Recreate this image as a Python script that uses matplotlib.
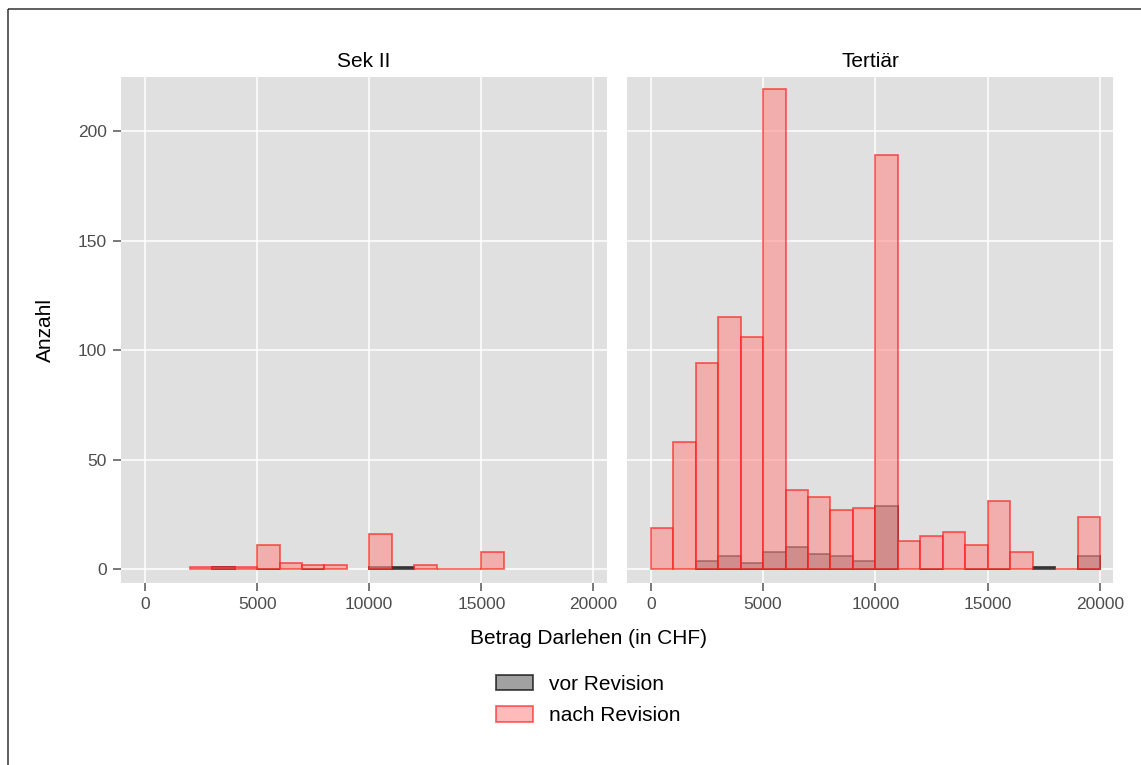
import matplotlib as mpl
import matplotlib.pyplot as plt
import numpy as np
from matplotlib.patches import Patch, Rectangle

nan = np.nan

# Klassengrenzen (CHF), Breite 1000
bin_edges = np.arange(0, 20001, 1000)

# Anzahl pro Klasse, Sek II
sek_nach = [nan, nan, 1, 1, 1, 11, 3, 2, 2, nan,
            16, nan, 2, 0, 0, 8, nan, nan, nan, nan]
sek_vor = [nan, nan, nan, 1, nan, 0, nan, 0, nan, nan,
           1, 1, nan, nan, nan, nan, nan, nan, nan, nan]

# Anzahl pro Klasse, Tertiär
ter_nach = [19, 58, 94, 115, 106, 219, 36, 33, 27, 28,
            189, 13, 15, 17, 11, 31, 8, nan, 0, 24]
ter_vor = [nan, nan, 4, 6, 3, 8, 10, 7, 6, 4,
           29, nan, 0, nan, 0, 0, nan, 1, nan, 6]

panels = ['Sek II', 'Tertiär']
labels = ['vor Revision', 'nach Revision']
x_ticks = [0, 5000, 10000, 15000, 20000]
y_ticks = [0, 50, 100, 150, 200]

mpl.rcParams['font.family'] = ['Liberation Sans', 'DejaVu Sans']

W, H = 1141, 765
fig = plt.figure(figsize=(W / 100, H / 100), dpi=100)

# Rahmen um die Grafik (rechts/unten abgeschnitten)
fig.patches.append(Rectangle((8 / W, 1 - 9 / H), 2, -2, transform=fig.transFigure,
                             fill=False, edgecolor='#333333', linewidth=1.1))

vor_style = dict(facecolor=(0, 0, 0, 0.37), edgecolor=(0, 0, 0, 0.7), linewidth=1.3)
nach_style = dict(facecolor=(1, 0.55, 0.55, 0.6), edgecolor=(1, 0.1, 0.1, 0.65), linewidth=1.3)

def px_box(x0, y0, x1, y1):
    return [x0 / W, 1 - y1 / H, (x1 - x0) / W, (y1 - y0) / H]

boxes = [px_box(121, 76.7, 606.7, 583.3), px_box(626.7, 76.7, 1113.3, 583.3)]
data = [(sek_vor, sek_nach), (ter_vor, ter_nach)]

lefts = bin_edges[:-1]
for i, (name, box, (vor, nach)) in enumerate(zip(panels, boxes, data)):
    ax = fig.add_axes(box)
    ax.set_facecolor('#e0e0e0')
    for s in ax.spines.values():
        s.set_visible(False)
    ax.set_axisbelow(True)
    ax.grid(True, color='white', linewidth=1.1)

    # vor Revision zuerst, nach Revision darüber
    ax.bar(lefts, vor, width=1000, align='edge', **vor_style)
    ax.bar(lefts, nach, width=1000, align='edge', **nach_style)

    ax.set_xlim(-1070, 20590)
    ax.set_ylim(-6.4, 224.8)
    ax.set_xticks(x_ticks)
    ax.set_xticklabels([str(t) for t in x_ticks])
    ax.set_yticks(y_ticks)
    ax.tick_params(axis='both', length=6, width=1.1, color='#555555',
                   labelcolor='#4d4d4d', labelsize=12.5, pad=4)
    if i == 1:
        ax.tick_params(axis='y', left=False, labelleft=False)

    ax.set_title(name, fontsize=15, color='black', pad=7)

fig.text(45 / W, 1 - 330 / H, 'Anzahl', rotation=90, ha='center', va='center', fontsize=15)
fig.text(589 / W, 1 - 638 / H, 'Betrag Darlehen (in CHF)', ha='center', va='center', fontsize=15)

handles = [Patch(**vor_style), Patch(**nach_style)]
fig.legend(handles, labels, loc='center', bbox_to_anchor=(588 / W, 1 - 700 / H),
           frameon=False, fontsize=15, handlelength=1.78, handleheight=0.77,
           handletextpad=0.77, labelspacing=0.62, borderpad=0)

fig.savefig('out.png', dpi=100)
